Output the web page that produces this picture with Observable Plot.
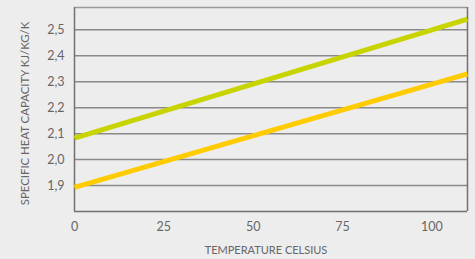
<!DOCTYPE html>
<html><head><meta charset="utf-8">
<script src="https://cdn.jsdelivr.net/npm/d3@7"></script>
<script src="https://cdn.jsdelivr.net/npm/@observablehq/plot@0.6"></script>
<style>
html,body{margin:0;padding:0;background:#ededed;}
</style>
</head><body>
<div id="chart"></div>
<script>
const temperature = [0, 110];
const seriesGreen = [2.083, 2.541];
const seriesYellow = [1.893, 2.330];
const yTicks = [1.9, 2.0, 2.1, 2.2, 2.3, 2.4, 2.5];
const xTicks = [0, 25, 50, 75, 100];
const yDomain = [1.8, 2.586];
const xDomain = [0, 110];
const xTitle = "TEMPERATURE CELSIUS";
const yTitle = "SPECIFIC HEAT CAPACITY KJ/KG/K";

const green = temperature.map((t, i) => ({t, v: seriesGreen[i]}));
const yellow = temperature.map((t, i) => ({t, v: seriesYellow[i]}));

const chart = Plot.plot({
  width: 475, height: 259,
  marginLeft: 74, marginRight: 8, marginTop: 7, marginBottom: 48,
  style: {background: "#ededed", fontFamily: "Lato, 'Open Sans', sans-serif", fontSize: "12.5px", color: "#666"},
  x: {domain: xDomain, ticks: xTicks, tickSize: 0, tickPadding: 11, label: null},
  y: {domain: yDomain, ticks: yTicks, tickSize: 0, tickPadding: 10, tickFormat: d => d.toFixed(1).replace(".", ","), label: null},
  marks: [
    Plot.ruleY(yTicks, {stroke: "#8a8a8a", strokeWidth: 1.5}),
    Plot.ruleY([yDomain[1]], {stroke: "#9a9a9a", strokeWidth: 1.5}),
    Plot.ruleY([yDomain[0]], {stroke: "#707070", strokeWidth: 1.5}),
    Plot.ruleX(xDomain, {stroke: "#707070", strokeWidth: 1.5}),
    Plot.line(yellow, {x: "t", y: "v", stroke: "#ffcc00", strokeWidth: 5, strokeLinecap: "butt"}),
    Plot.line(green, {x: "t", y: "v", stroke: "#c8d400", strokeWidth: 5, strokeLinecap: "butt"}),
    Plot.text([xTitle], {frameAnchor: "bottom", dx: -5, dy: 39, lineAnchor: "middle", textAnchor: "middle", fill: "#666", fontSize: 11}),
    Plot.text([yTitle], {frameAnchor: "left", dx: -49, dy: 4, rotate: -90, lineAnchor: "middle", textAnchor: "middle", fill: "#666", fontSize: 11.4})
  ]
});
document.getElementById("chart").appendChild(chart);
</script>
</body></html>
